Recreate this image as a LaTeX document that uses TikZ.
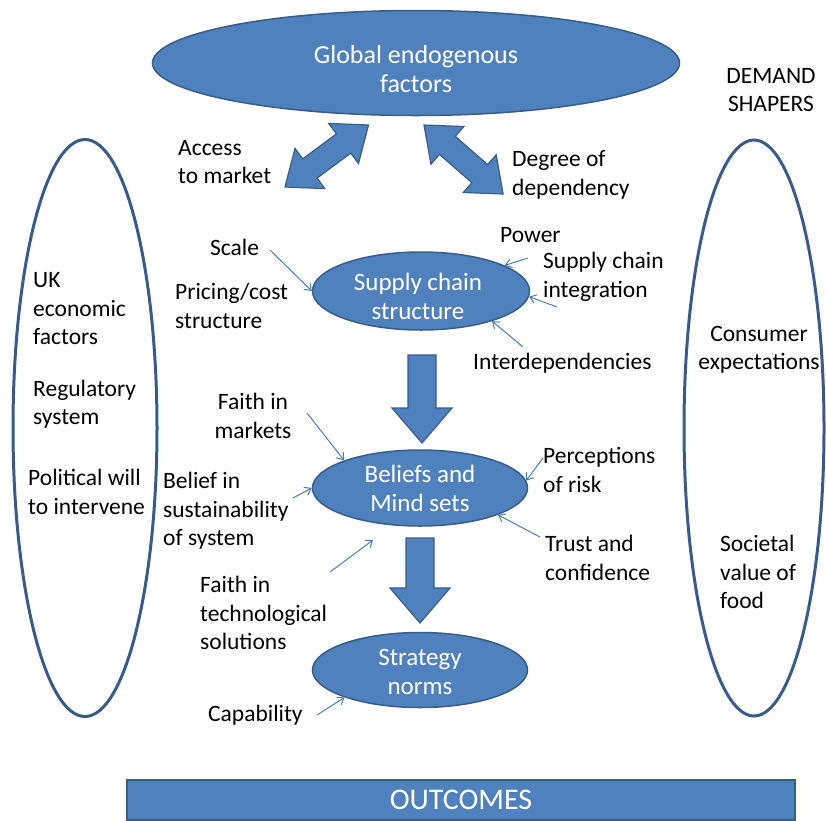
\documentclass[tikz,border=0pt]{standalone}
\usepackage{fontspec}
\setmainfont{Carlito}
\usetikzlibrary{shapes.geometric, arrows.meta, positioning, calc}

\definecolor{boxblue}{RGB}{79,129,189}
\definecolor{edgeblue}{RGB}{56,93,138}
\definecolor{ringblue}{RGB}{58,90,140}
\definecolor{linkblue}{RGB}{74,126,187}

\tikzset{
  blob/.style={ellipse, draw=edgeblue, line width=1.5pt, fill=boxblue, inner sep=0pt},
  blobtext/.style={text=white, align=center, inner sep=0pt, font=\fontsize{25}{29}\selectfont},
  ring/.style={ellipse, draw=ringblue, line width=3pt, inner sep=0pt},
  lbl/.style={align=left, anchor=west, inner sep=0pt, font=\fontsize{23.5}{28.5}\selectfont},
  clbl/.style={align=center, inner sep=0pt, font=\fontsize{23.5}{28.5}\selectfont},
  feed/.style={draw=linkblue, line width=1pt, -{Straight Barb[length=6pt,width=9pt]}},
  fat/.style={fill=boxblue, draw=edgeblue, line width=1.2pt},
}

% big down arrow: tail, angle, length
\newcommand{\fatarrow}[3]{%
  \begin{scope}[shift={#1}, rotate=#2]
    \filldraw[fat] (0,-14) -- ({#3-35},-14) -- ({#3-35},-30) -- (#3,0) -- ({#3-35},30) -- ({#3-35},14) -- (0,14) -- cycle;
  \end{scope}}
% big two-headed arrow: one tip, angle, length
\newcommand{\twinarrow}[3]{%
  \begin{scope}[shift={#1}, rotate=#2]
    \filldraw[fat] (0,0) -- (31,-25) -- (31,-12) -- ({#3-31},-12) -- ({#3-31},-25) -- (#3,0) -- ({#3-31},25) -- ({#3-31},12) -- (31,12) -- (31,25) -- cycle;
  \end{scope}}

\begin{document}
\begin{tikzpicture}[x=1pt, y=-1pt]
  \useasboundingbox (0,0) rectangle (826,820);

  % side groups
  \node[ring, minimum width=144pt, minimum height=577pt] (uk) at (85,428) {};
  \node[ring, minimum width=140pt, minimum height=576pt] (demand) at (754,428) {};
  \node[lbl] (ukeco) at (33,309) {UK\\economic\\factors};
  \node[lbl] (reg) at (33,404) {Regulatory\\system};
  \node[lbl] (polwill) at (28,492) {Political will\\to intervene};
  \node[clbl] (shapers) at (771,90) {DEMAND\\SHAPERS};
  \node[clbl] (consumer) at (759,350) {Consumer\\expectations};
  \node[lbl] (societal) at (720,572) {Societal\\value of\\food};

  % main chain
  \node[blob, minimum width=527pt, minimum height=105pt] (glob) at (416,63) {};
  \node[blobtext, font=\fontsize{26}{29}\selectfont] at (416,69) {Global endogenous\\factors};
  \node[blob, minimum width=217pt, minimum height=78pt] (sc) at (421,291) {};
  \node[blobtext] at (418,296) {Supply chain\\structure};
  \node[blob, minimum width=215pt, minimum height=76pt] (bm) at (420,488) {};
  \node[blobtext] at (bm) {Beliefs and\\Mind sets};
  \node[blob, minimum width=215pt, minimum height=75pt] (st) at (420,670) {};
  \node[blobtext] at (420,672) {Strategy\\norms};

  \node[draw=edgeblue, line width=1.5pt, fill=boxblue, minimum width=668pt, minimum height=40pt, inner sep=0pt,
        text=white, font=\fontsize{30}{34}\selectfont] (out) at (461,800) {OUTCOMES};

  \twinarrow{(285,187)}{36.6}{104}
  \twinarrow{(424,125)}{-41.1}{105}
  \fatarrow{(422,355)}{-90}{88}
  \fatarrow{(420,538)}{-90}{85}

  \node[lbl] (access) at (178,162) {Access\\to market};
  \node[lbl] (degree) at (512,175) {Degree of\\dependency};

  % supply chain inputs
  \node[lbl] (scale) at (210,247) {Scale};
  \node[lbl] (pricing) at (175,306) {Pricing/cost\\structure};
  \node[lbl] (power) at (500,235) {Power};
  \node[lbl] (integ) at (543,277) {Supply chain\\integration};
  \node[lbl] (interdep) at (473,363) {Interdependencies};
  \coordinate (scaleT) at (270,250);
  \coordinate (powerT) at (528,258);
  \coordinate (integT) at (557,307);
  \coordinate (interdepT) at (523,347);
  \draw[feed] (scaleT) -- (sc.180);
  \draw[feed] (powerT) -- (sc.17);
  \draw[feed] (integT) -- (sc.-3);
  \draw[feed] (interdepT) -- (sc.-23);

  % belief inputs
  \node[clbl] (fmarkets) at (253,416) {Faith in\\markets};
  \node[lbl] (bsust) at (163,511) {Belief in\\sustainability\\of system};
  \node[lbl] (risk) at (543,470) {Perceptions\\of risk};
  \node[lbl] (trust) at (545,558) {Trust and\\confidence};
  \node[lbl] (ftech) at (200,613) {Faith in\\technological\\solutions};
  \coordinate (fmarketsT) at (307,413);
  \coordinate (bsustT) at (293,498);
  \coordinate (riskT) at (543,458);
  \coordinate (trustT) at (540,537);
  \coordinate (ftechT) at (330,572);
  \coordinate (ftechH) at (373,540);
  \draw[feed] (fmarketsT) -- (bm.160);
  \draw[feed] (bsustT) -- (bm.180);
  \draw[feed] (riskT) -- (bm.4);
  \draw[feed] (trustT) -- (bm.-19);
  \draw[feed] (ftechT) -- (ftechH);

  % strategy inputs
  \node[lbl] (capab) at (208,715) {Capability};
  \coordinate (capabT) at (317,715);
  \draw[feed] (capabT) -- (st.200);
\end{tikzpicture}
\end{document}
